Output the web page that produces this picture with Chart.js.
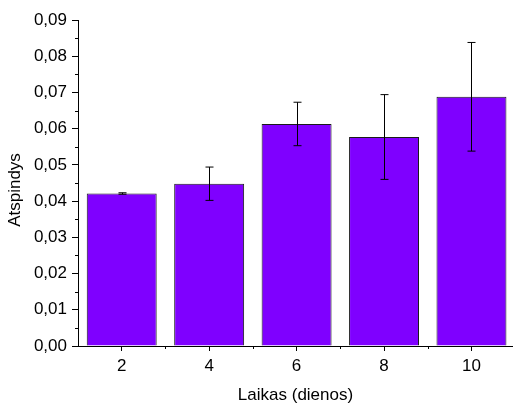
<!DOCTYPE html>
<html><head><meta charset="utf-8">
<script src="https://cdn.jsdelivr.net/npm/chart.js@4/dist/chart.umd.min.js"></script>
<style>html,body{margin:0;padding:0;background:#fff;overflow:hidden}</style>
</head><body>
<canvas id="c" width="513" height="407"></canvas>
<script>
// ---- data ----
const days = [2, 4, 6, 8, 10];
const reflectance = [0.0421, 0.0448, 0.0613, 0.0577, 0.0688];
const errors = [0.0002, 0.0046, 0.0060, 0.0117, 0.0150];
const xTicks = [2, 4, 6, 8, 10];
const xMinorTicks = [3, 5, 7, 9];
const yTicks = [0, 0.01, 0.02, 0.03, 0.04, 0.05, 0.06, 0.07, 0.08, 0.09];
const yMinorTicks = [0.005, 0.015, 0.025, 0.035, 0.045, 0.055, 0.065, 0.075, 0.085];
const xTitle = 'Laikas (dienos)';
const yTitle = 'Atspindys';

const FONT = {family: '"Liberation Sans", Arial, sans-serif', size: 17};

const extras = {
  id: 'extras',
  afterDatasetsDraw(chart) {
    const ctx = chart.ctx, xs = chart.scales.x, ys = chart.scales.y;
    ctx.save();
    ctx.strokeStyle = '#000';
    ctx.lineWidth = 1;
    // error bars
    days.forEach((d, i) => {
      const x = Math.round(xs.getPixelForValue(d)) + 0.5;
      const yt = ys.getPixelForValue(reflectance[i] + errors[i]);
      const yb = ys.getPixelForValue(reflectance[i] - errors[i]);
      ctx.beginPath();
      ctx.moveTo(x, yt); ctx.lineTo(x, yb);
      ctx.moveTo(x - 4, yt); ctx.lineTo(x + 4, yt);
      ctx.moveTo(x - 4, yb); ctx.lineTo(x + 4, yb);
      ctx.stroke();
    });
    // minor ticks
    const a = chart.chartArea;
    ctx.beginPath();
    yMinorTicks.forEach(v => {
      const y = Math.round(ys.getPixelForValue(v)) + 0.5;
      ctx.moveTo(a.left - 3, y); ctx.lineTo(a.left, y);
    });
    xMinorTicks.forEach(v => {
      const x = Math.round(xs.getPixelForValue(v)) + 0.5;
      ctx.moveTo(x, a.bottom); ctx.lineTo(x, a.bottom + 3);
    });
    ctx.stroke();
    // y axis title
    ctx.fillStyle = '#000';
    ctx.font = FONT.size + 'px ' + FONT.family;
    ctx.textAlign = 'center';
    ctx.textBaseline = 'middle';
    ctx.translate(15, (a.top + a.bottom) / 2 + 7);
    ctx.rotate(-Math.PI / 2);
    ctx.fillText(yTitle, 0, 0);
    ctx.restore();
  }
};

new Chart(document.getElementById('c'), {
  type: 'bar',
  data: {
    datasets: [{
      data: days.map((d, i) => ({x: d, y: reflectance[i]})),
      backgroundColor: '#7F00FF',
      borderColor: '#1a1a1a',
      borderWidth: 1,
      barPercentage: 0.8,
      categoryPercentage: 1.0
    }]
  },
  options: {
    responsive: false,
    animation: false,
    devicePixelRatio: 1,
    layout: {padding: {top: 20, right: 0, bottom: 0, left: 0}},
    plugins: {legend: {display: false}, tooltip: {enabled: false}},
    scales: {
      x: {
        type: 'linear',
        min: 1,
        max: 10.95,
        offset: false,
        afterBuildTicks: s => { s.ticks = xTicks.map(v => ({value: v})); },
        afterFit: s => { s.height = 61; },
        grid: {display: true, drawOnChartArea: false, offset: false, tickLength: 5, tickColor: '#000', tickWidth: 1},
        border: {display: true, color: '#000', width: 1},
        ticks: {color: '#000', font: FONT, padding: 5, maxRotation: 0, autoSkip: false,
                callback: v => String(v)},
        title: {display: true, text: xTitle, color: '#000', font: FONT, padding: {top: 0, bottom: 1}}
      },
      y: {
        min: 0,
        max: 0.09,
        afterBuildTicks: s => { s.ticks = yTicks.map(v => ({value: v})); },
        afterFit: s => { s.width = 78; },
        grid: {display: true, drawOnChartArea: false, tickLength: 6, tickColor: '#000', tickWidth: 1},
        border: {display: true, color: '#000', width: 1},
        ticks: {color: '#000', font: FONT, padding: 5,
                callback: v => v.toFixed(2).replace('.', ',')},
        title: {display: false}
      }
    }
  },
  plugins: [extras]
});
</script>
</body></html>
